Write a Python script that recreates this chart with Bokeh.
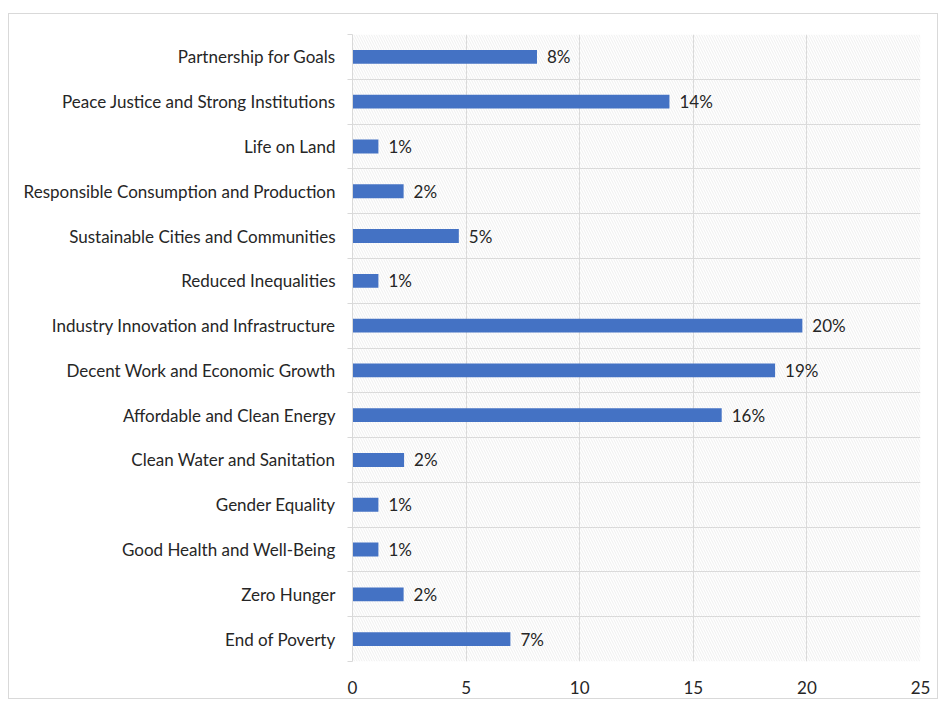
from bokeh.plotting import figure
from bokeh.models import ColumnDataSource, FixedTicker, BoxAnnotation, LabelSet
from bokeh.core.properties import value
from bokeh.embed import file_html
from bokeh.resources import INLINE

# Data (bottom to top, as drawn)
categories = [
    "End of Poverty",
    "Zero Hunger",
    "Good Health and Well-Being",
    "Gender Equality",
    "Clean Water and Sanitation",
    "Affordable and Clean Energy",
    "Decent Work and Economic Growth",
    "Industry Innovation and Infrastructure",
    "Reduced Inequalities",
    "Sustainable Cities and Communities",
    "Responsible Consumption and Production",
    "Life on Land",
    "Peace Justice and Strong Institutions",
    "Partnership for Goals",
]
values = [6.95, 2.25, 1.14, 1.14, 2.27, 16.25, 18.6, 19.8, 1.14, 4.68, 2.25, 1.14, 13.95, 8.12]
labels = ["7%", "2%", "1%", "1%", "2%", "16%", "19%", "20%", "1%", "5%", "2%", "1%", "14%", "8%"]
x_ticks = [0, 5, 10, 15, 20, 25]

n = len(categories)
ypos = list(range(n))
src = ColumnDataSource(dict(y=ypos, v=values, lab=labels))

FONT = "Lato"
TXT = "#262626"
GRID = "#d9d9d9"

p = figure(
    frame_width=568, frame_height=627,
    x_range=(0, 25), y_range=(-0.5, n - 0.5),
    output_backend="svg", toolbar_location=None,
    min_border_left=343, min_border_top=20, min_border_right=17, min_border_bottom=37,
    outline_line_color=None,
)
p.styles = {"border": "1px solid #d9d9d9", "margin-top": "13px", "margin-left": "8px"}

# hatched plot area background
p.add_layout(BoxAnnotation(fill_alpha=0, line_color=None, hatch_pattern="\\",
                           hatch_color="#dedede", hatch_scale=5, hatch_weight=0.5,
                           level="underlay"))

p.hbar(y="y", right="v", left=0, height=0.31, source=src,
       fill_color="#4472C4", line_color=None)

p.add_layout(LabelSet(x="v", y="y", text="lab", source=src, x_offset=10, y_offset=0,
                      text_baseline="middle", text_font=value(FONT), text_font_size="17px",
                      text_color=TXT))

# x axis
p.xaxis.ticker = FixedTicker(ticks=x_ticks)
p.xaxis.axis_line_color = None
p.xaxis.major_tick_line_color = None
p.xaxis.minor_tick_line_color = None
p.xaxis.major_label_text_font = FONT
p.xaxis.major_label_text_font_size = "17px"
p.xaxis.major_label_text_color = TXT
p.xaxis.major_label_standoff = 13

# y axis
boundaries = [i - 0.5 for i in range(n + 1)]
p.yaxis.ticker = FixedTicker(ticks=ypos, minor_ticks=boundaries)
p.yaxis.major_label_overrides = {i: c for i, c in enumerate(categories)}
p.yaxis.axis_line_color = GRID
p.yaxis.major_tick_line_color = None
p.yaxis.minor_tick_line_color = GRID
p.yaxis.minor_tick_in = 0
p.yaxis.minor_tick_out = 5
p.yaxis.major_label_text_font = FONT
p.yaxis.major_label_text_font_size = "17px"
p.yaxis.major_label_text_color = TXT
p.yaxis.major_label_standoff = 11

# grids
p.xgrid.ticker = FixedTicker(ticks=x_ticks)
p.xgrid.grid_line_color = GRID
p.ygrid.ticker = FixedTicker(ticks=boundaries)
p.ygrid.grid_line_color = GRID

open("out.html", "w").write(file_html(p, INLINE))
